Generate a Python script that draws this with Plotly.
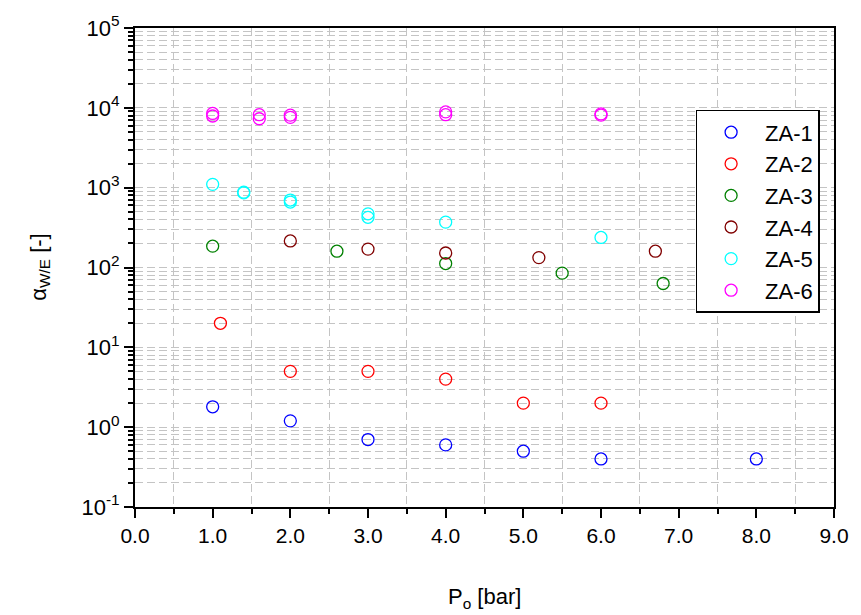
import plotly.graph_objects as go

series_names = ["ZA-1", "ZA-2", "ZA-3", "ZA-4", "ZA-5", "ZA-6"]
colors = ["#0000ff", "#ff0000", "#008000", "#800000", "#00ffff", "#ff00ff"]

za1_x = [1.0, 2.0, 3.0, 4.0, 5.0, 6.0, 8.0]
za1_y = [1.8, 1.2, 0.7, 0.6, 0.5, 0.4, 0.4]
za2_x = [1.1, 2.0, 3.0, 4.0, 5.0, 6.0]
za2_y = [20, 5, 5, 4, 2, 2]
za3_x = [1.0, 2.6, 4.0, 5.5, 6.8]
za3_y = [185, 160, 112, 85, 63]
za4_x = [2.0, 3.0, 4.0, 5.2, 6.7]
za4_y = [215, 170, 152, 133, 160]
za5_x = [1.0, 1.4, 1.4, 2.0, 2.0, 3.0, 3.0, 4.0, 6.0]
za5_y = [1100, 880, 860, 700, 660, 470, 425, 370, 238]
za6_x = [1.0, 1.0, 1.6, 1.6, 2.0, 2.0, 4.0, 4.0, 6.0, 6.0]
za6_y = [8500, 7900, 8200, 7300, 8100, 7600, 8900, 8200, 8400, 8100]

xs = [za1_x, za2_x, za3_x, za4_x, za5_x, za6_x]
ys = [za1_y, za2_y, za3_y, za4_y, za5_y, za6_y]

y_tickvals = [1e-1, 1e0, 1e1, 1e2, 1e3, 1e4, 1e5]
y_ticktext = ["10<sup>-1</sup>", "10<sup>0</sup>", "10<sup>1</sup>", "10<sup>2</sup>",
              "10<sup>3</sup>", "10<sup>4</sup>", "10<sup>5</sup>"]

FONT = "Liberation Sans, Arial, sans-serif"

fig = go.Figure()
for name, c, x, y in zip(series_names, colors, xs, ys):
    fig.add_trace(go.Scatter(
        x=x, y=y, mode="markers", name=name,
        marker=dict(symbol="circle-open", size=12, color=c, line=dict(width=1.3, color=c)),
    ))

grid_col = "#c4c4c4"
fig.update_xaxes(
    range=[0, 9], dtick=1, tick0=0, tickformat=".1f",
    showline=True, linecolor="black", linewidth=2, mirror=True,
    ticks="outside", ticklen=9, tickwidth=1.5, tickcolor="black",
    showgrid=False, zeroline=False,
    tickfont=dict(family=FONT, size=21, color="black"),
    minor=dict(dtick=0.5, tick0=0, ticks="outside", ticklen=5, tickwidth=1.5, tickcolor="black",
               showgrid=True, gridcolor=grid_col, gridwidth=1, griddash="8px,4px"),
)
fig.update_yaxes(
    type="log", range=[-1, 5], tickvals=y_tickvals, ticktext=y_ticktext,
    showline=True, linecolor="black", linewidth=2, mirror=True,
    ticks="outside", ticklen=9, tickwidth=1.5, tickcolor="black",
    showgrid=True, gridcolor=grid_col, gridwidth=1, griddash="8px,4px", zeroline=False,
    tickfont=dict(family=FONT, size=22, color="black"),
    minor=dict(dtick="D1", ticks="outside", ticklen=5, tickwidth=1.5, tickcolor="black",
               showgrid=True, gridcolor=grid_col, gridwidth=1, griddash="8px,4px"),
)

fig.update_layout(
    width=861, height=615,
    margin=dict(l=135, r=15, t=27, b=108),
    plot_bgcolor="white", paper_bgcolor="white",
    font=dict(family=FONT, color="black"),
    showlegend=True,
    legend=dict(x=0.802, y=0.829, xanchor="left", yanchor="top",
                bgcolor="white", bordercolor="black", borderwidth=1.5,
                font=dict(family=FONT, size=22, color="black"),
                itemwidth=58, tracegroupgap=0),
    annotations=[
        dict(text="P<sub>o</sub> [bar]", xref="paper", yref="paper", x=0.5, y=-0.19,
             xanchor="center", yanchor="middle", showarrow=False,
             font=dict(family=FONT, size=22, color="black")),
        dict(text="α<sub>W/E</sub> [-]", xref="paper", yref="paper", x=-0.137, y=0.5,
             xanchor="center", yanchor="middle", showarrow=False, textangle=-90,
             font=dict(family=FONT, size=22, color="black")),
    ],
)

fig.write_html("out.html")
